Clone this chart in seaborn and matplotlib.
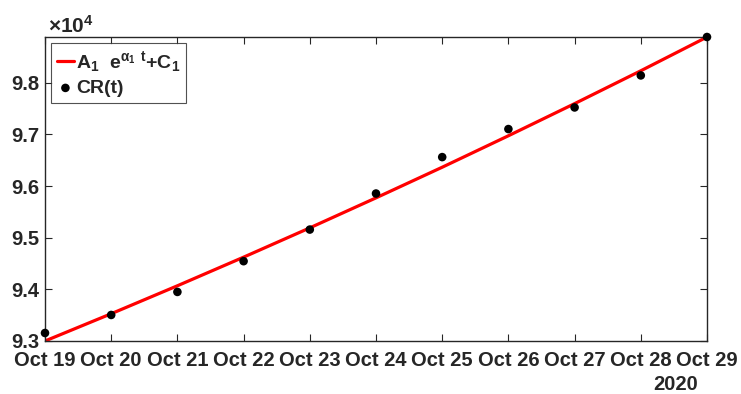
import numpy as np
import pandas as pd
import matplotlib
matplotlib.use("Agg")
import matplotlib.pyplot as plt
import matplotlib.dates as mdates
from matplotlib.ticker import FuncFormatter, FixedLocator
import seaborn as sns

# Daily cumulative counts and the fitted exponential trend
dates = ["2020-10-19", "2020-10-20", "2020-10-21", "2020-10-22", "2020-10-23",
         "2020-10-24", "2020-10-25", "2020-10-26", "2020-10-27", "2020-10-28",
         "2020-10-29"]
cr_values = [93155, 93504, 93950, 94545, 95157, 95855, 96560, 97103, 97521,
             98141, 98885]
fit_values = [93000, 93528, 94069, 94623, 95190, 95771, 96364, 96973, 97595,
              98231, 98884]
y_ticks = [93000, 94000, 95000, 96000, 97000, 98000]
fit_label = r"A$_1$  e$^{\alpha_1\ \,t}$+C$_1$"
data_label = "CR(t)"
year_label = "2020"

sns.set_theme(style="ticks")
ink = "#262626"
plt.rcParams.update({
    "font.family": ["Liberation Sans", "DejaVu Sans"],
    "font.weight": "bold",
    "mathtext.fontset": "custom",
    "mathtext.rm": "Liberation Sans:bold",
    "mathtext.it": "Liberation Sans:bold",
    "mathtext.bf": "Liberation Sans:bold",
    "mathtext.default": "rm",
    "axes.edgecolor": ink,
    "xtick.color": ink,
    "ytick.color": ink,
    "text.color": ink,
})

df = pd.DataFrame({
    "date": pd.to_datetime(dates),
    "cr": cr_values,
    "fit": fit_values,
})

fig = plt.figure(figsize=(7.41, 3.94), dpi=100)
ax = fig.add_axes([45 / 741, 1 - 341 / 394, 662 / 741, 304 / 394])

sns.lineplot(data=df, x="date", y="fit", ax=ax, color="#ff0000",
             linewidth=2.3, label=fit_label, zorder=2)
sns.scatterplot(data=df, x="date", y="cr", ax=ax, color="black", s=38,
                edgecolor="none", label=data_label, zorder=3, clip_on=False)

ax.set_xlim(df["date"].iloc[0], df["date"].iloc[-1])
ax.set_ylim(93000, 98885)
ax.xaxis.set_major_locator(mdates.DayLocator())
ax.xaxis.set_major_formatter(mdates.DateFormatter("%b %d"))
ax.yaxis.set_major_locator(FixedLocator(y_ticks))
ax.yaxis.set_major_formatter(FuncFormatter(lambda v, p: f"{v / 1e4:.1f}"))
ax.set_xlabel("")
ax.set_ylabel("")

for side in ["top", "right", "left", "bottom"]:
    ax.spines[side].set_visible(True)
    ax.spines[side].set_linewidth(1.0)
ax.tick_params(direction="in", length=5, width=0.8, labelsize=14.5,
               top=True, right=True)
ax.tick_params(axis="x", pad=7.5)
ax.tick_params(axis="y", pad=4)
for lab in ax.get_xticklabels() + ax.get_yticklabels():
    lab.set_fontweight("bold")

fig.text(48 / 741, 1 - 33 / 394, r"$\times$10$^4$", fontsize=15,
         fontweight="bold", va="baseline", ha="left")
fig.text(676 / 741, 1 - 390 / 394, year_label, fontsize=14.5,
         fontweight="bold", va="baseline", ha="center")

leg = ax.legend(loc="upper left", fontsize=14, frameon=True, fancybox=False,
                edgecolor=ink, borderaxespad=0.3, handlelength=0.9,
                handletextpad=0.1, borderpad=0.3, labelspacing=0.3)
leg.get_frame().set_linewidth(0.8)
for t in leg.get_texts():
    t.set_fontweight("bold")

fig.savefig("out.png", dpi=100)
